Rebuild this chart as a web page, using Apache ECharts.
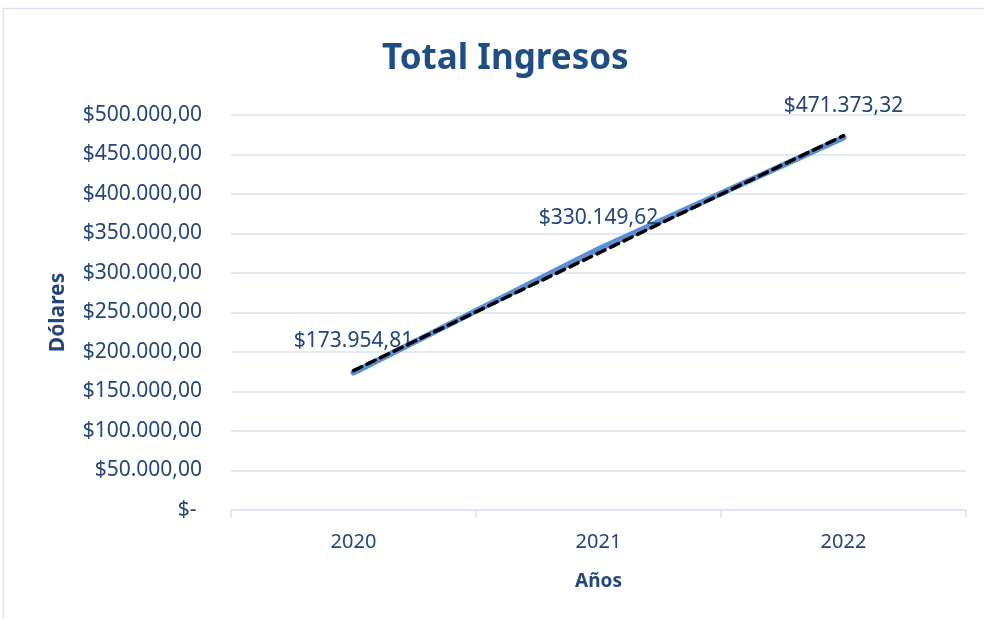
<!DOCTYPE html>
<html>
<head>
<meta charset="utf-8">
<script src="https://cdn.jsdelivr.net/npm/echarts@6/dist/echarts.min.js"></script>
<style>
  html, body { margin: 0; padding: 0; background: #fff; }
  #main { width: 984px; height: 619px; }
</style>
</head>
<body>
<div id="main"></div>
<script>
var years = ['2020', '2021', '2022'];
var ingresos = [173954.81, 330149.62, 471373.32];
// linea de tendencia (lineal)
var tendencia = [176450, 325159, 473869];

var textColor = '#24467a';
var gridColor = '#d9e3f3';
var fontFam = '"Noto Sans", sans-serif';

function money(v) {
	if (v === 0) return '$- ';
	var parts = v.toFixed(2).split('.');
	var ent = parts[0].replace(/\B(?=(\d{3})+(?!\d))/g, '.');
	return '$' + ent + ',' + parts[1];
}

var option = {
	backgroundColor: '#fff',
	animation: false,
	title: {
		text: 'Total Ingresos',
		left: 377,
		top: 37,
		textStyle: { color: '#1f4e84', fontSize: 35, fontWeight: 'bold', fontFamily: fontFam }
	},
	graphic: [{
		type: 'rect',
		shape: { x: 3.5, y: 8.5, width: 1000, height: 700 },
		style: { fill: 'none', stroke: '#d6e1f1', lineWidth: 1.5 },
		silent: true
	}],
	grid: { left: 231, right: 18, top: 115, bottom: 109 },
	xAxis: {
		type: 'category',
		data: years,
		boundaryGap: true,
		name: 'Años',
		nameLocation: 'middle',
		nameGap: 62,
		nameTextStyle: { color: textColor, fontSize: 19, fontWeight: 'bold', fontFamily: fontFam },
		axisLine: { lineStyle: { color: gridColor, width: 1.5 } },
		axisTick: { show: true, length: 8, lineStyle: { color: gridColor, width: 1.5 } },
		axisLabel: { color: textColor, fontSize: 20, margin: 22, fontFamily: fontFam }
	},
	yAxis: {
		type: 'value',
		min: 0,
		max: 500000,
		interval: 50000,
		name: 'Dólares',
		nameLocation: 'middle',
		nameGap: 162,
		nameRotate: 90,
		nameTextStyle: { color: textColor, fontSize: 21, fontWeight: 'bold', fontFamily: fontFam },
		axisLine: { show: false },
		axisTick: { show: false },
		splitLine: { lineStyle: { color: gridColor, width: 1.5 } },
		axisLabel: { color: textColor, fontSize: 21, margin: 29, fontFamily: fontFam, formatter: money }
	},
	series: [{
		name: 'Ingresos',
		type: 'line',
		data: ingresos,
		symbol: 'circle',
		symbolSize: 2,
		showSymbol: true,
		itemStyle: { color: 'rgba(0,0,0,0)', borderWidth: 0 },
		lineStyle: { color: '#5b8fd3', width: 6, cap: 'round' },
		label: {
			show: true,
			position: 'top',
			distance: 20,
			color: textColor,
			fontSize: 21,
			fontFamily: fontFam,
			formatter: function (p) { return money(p.value); }
		},
		z: 2
	}, {
		name: 'Tendencia',
		type: 'line',
		data: tendencia,
		symbol: 'none',
		lineStyle: { color: '#000', width: 3.5, type: [9, 6], cap: 'round' },
		z: 3
	}]
};

var myChart = echarts.init(document.getElementById('main'));
myChart.setOption(option, true);
</script>
</body>
</html>
